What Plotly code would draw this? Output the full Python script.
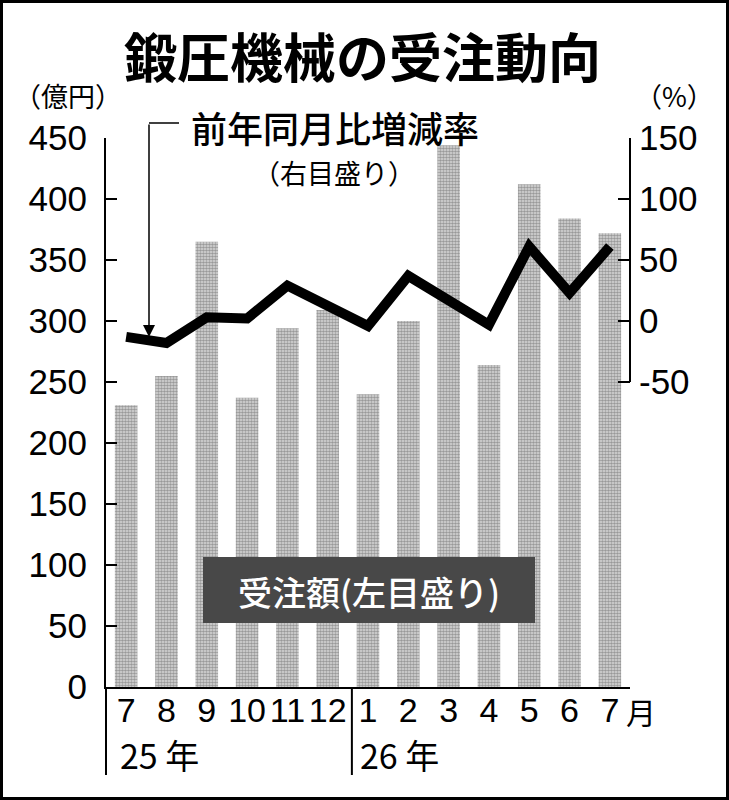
import plotly.graph_objects as go

# 鍛圧機械の受注動向 (2025年7月〜2026年7月)
months = ["7", "8", "9", "10", "11", "12", "1", "2", "3", "4", "5", "6", "7"]
orders = [231, 255, 365, 237, 294, 309, 240, 300, 444, 264, 412, 384, 372]    # 受注額 (億円)
yoy_pct = [-13, -18, 3, 2, 29, 13, -4, 37, 16, -3, 61, 23, 61]                 # 前年同月比 (%)
left_ticks = [0, 50, 100, 150, 200, 250, 300, 350, 400, 450]
right_ticks = [-50, 0, 50, 100, 150]

W, H = 729, 800
L, R, T, B = 106, 630, 138, 687  # plot area in pixels


def px_x(p):
    return (p - L) / (R - L)


def px_y(p):
    return (B - p) / (B - T)


xs = list(range(len(months)))
font = "Liberation Sans, Arial, Noto Sans CJK JP, sans-serif"
jp = "Noto Sans CJK JP, sans-serif"

fig = go.Figure()
fig.add_trace(go.Bar(
    x=xs, y=orders, width=0.56,
    marker=dict(color="#b0b0b0", line_width=0,
                pattern=dict(shape=".", size=3, solidity=0.6,
                             fgcolor="#555555", bgcolor="#dcdcdc")),
    showlegend=False))
fig.add_trace(go.Scatter(
    x=xs, y=yoy_pct, yaxis="y2", mode="lines",
    line=dict(color="black", width=10), showlegend=False))

fig.update_layout(
    width=W, height=H,
    margin=dict(l=L, r=W - R, t=T, b=H - B),
    paper_bgcolor="white", plot_bgcolor="white",
    font=dict(family=font, color="black"),
    xaxis=dict(range=[-0.5, 12.5], tickvals=xs, ticktext=months,
               showline=True, linecolor="black", linewidth=2,
               ticks="", showgrid=False, zeroline=False,
               tickfont=dict(size=34), ticklabelstandoff=-8),
    yaxis=dict(range=[0, 450], tickvals=left_ticks,
               showline=True, linecolor="black", linewidth=2,
               ticks="inside", ticklen=11, tickwidth=2, tickcolor="black",
               showgrid=False, zeroline=False,
               tickfont=dict(size=35), ticklabelstandoff=10),
    yaxis2=dict(range=[-300, 150], tickvals=right_ticks,
                ticktext=[str(v) for v in right_ticks], overlaying="y",
                side="right", showline=False,
                ticks="inside", ticklen=12, tickwidth=2, tickcolor="black",
                showgrid=False, zeroline=False,
                tickfont=dict(size=35), ticklabelstandoff=8),
)

shapes = [
    # 右目盛りの軸線 (-50〜150)
    dict(type="line", xref="paper", yref="y2", x0=1, x1=1, y0=-50, y1=150,
         line=dict(color="black", width=2)),
    # 年の区切り線
    dict(type="line", xref="paper", yref="paper", x0=0, x1=0,
         y0=0, y1=px_y(775), line=dict(color="black", width=2)),
    dict(type="line", xref="x", yref="paper", x0=5.6, x1=5.6,
         y0=0, y1=px_y(775), line=dict(color="black", width=2)),
    # 矢印の横線
    dict(type="line", xref="paper", yref="paper",
         x0=px_x(149), x1=px_x(179), y0=px_y(123), y1=px_y(123),
         line=dict(color="black", width=1.5)),
    # 凡例ボックス
    dict(type="rect", xref="paper", yref="paper",
         x0=px_x(203), x1=px_x(535), y0=px_y(623), y1=px_y(557),
         fillcolor="#484848", line_width=0, layer="above"),
    # 外枠
    dict(type="rect", xref="paper", yref="paper",
         x0=px_x(1.5), x1=px_x(727.5), y0=px_y(798.5), y1=px_y(1.5),
         line=dict(color="black", width=3)),
]
fig.update_layout(shapes=shapes)


def label(text, x, y, size, color="black", weight=400, xanchor="center"):
    fig.add_annotation(text=text, x=px_x(x), y=px_y(y), xref="paper", yref="paper",
                       showarrow=False, xanchor=xanchor, yanchor="middle",
                       font=dict(size=size, color=color, family=jp, weight=weight))


label("鍛圧機械の受注動向", 362, 55, 53, weight=700)
label("（億円）", 68, 96, 27)
label("（%）", 674, 96, 27)
label("前年同月比増減率", 335, 127, 36, weight=500)
label("（右目盛り）", 334, 172, 27)
label("受注額(左目盛り)", 369, 591, 34, color="white", weight=500)
label("月", 641, 711, 30)
label("25 年", 118, 754, 34, xanchor="left")
label("26 年", 358, 754, 34, xanchor="left")

# 矢印
fig.add_annotation(x=px_x(149), y=px_y(337), xref="paper", yref="paper",
                   ax=0, ay=-(337 - 123), text="", showarrow=True,
                   arrowhead=2, arrowsize=1.6, arrowwidth=1.5, arrowcolor="black")

fig.write_html("out.html", config={"displayModeBar": False},
               post_script="document.body.style.margin='0';")
